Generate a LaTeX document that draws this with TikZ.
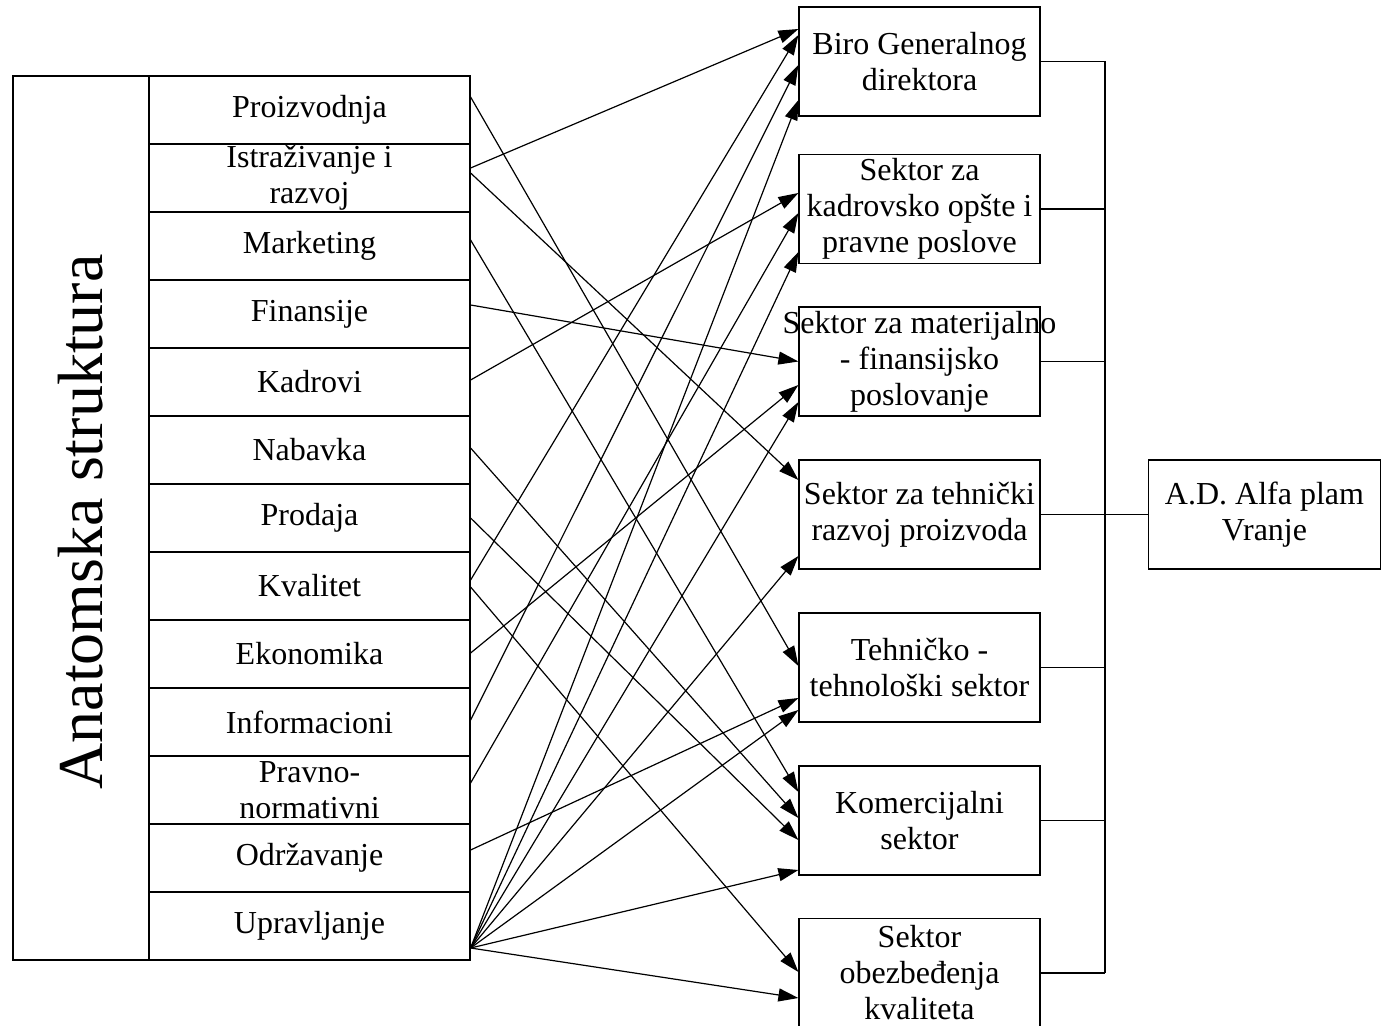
\documentclass[tikz,border=0pt]{standalone}
\usepackage{fontspec}
\setmainfont{Liberation Serif}
\usetikzlibrary{arrows.meta,calc}
\begin{document}
\begin{tikzpicture}[x=0.5pt,y=-0.5pt,
  every node/.style={font=\fontsize{16}{18}\selectfont, inner sep=0pt},
  cell/.style={draw, line width=0.6pt, minimum width=160.5pt, minimum height=34pt, align=center},
  rbox/.style={draw, line width=0.6pt, minimum width=120.5pt, minimum height=54.5pt, align=center},
  conn/.style={line width=0.6pt, -{Triangle[length=10pt,width=6.5pt]}},
  bus/.style={line width=0.6pt}]
\useasboundingbox (0,0) rectangle (1381,1026);
% left table
\node[draw, line width=0.6pt, minimum width=68pt, minimum height=442pt] (A) at (81,518) {};
\node[rotate=90, font=\fontsize{32}{36}\selectfont] (Atxt) at (81,522) {Anatomska struktura};
\node[cell] (r1) at (309.5,110) {Proizvodnja};
\node[cell] (r2) at (309.5,178) {Istraživanje i\\razvoj};
\node[cell] (r3) at (309.5,246) {Marketing};
\node[cell] (r4) at (309.5,314) {Finansije};
\node[cell] (r5) at (309.5,382) {Kadrovi};
\node[cell] (r6) at (309.5,450) {Nabavka};
\node[cell] (r7) at (309.5,518) {Prodaja};
\node[cell] (r8) at (309.5,586) {Kvalitet};
\node[cell] (r9) at (309.5,654) {Ekonomika};
\node[cell] (r10) at (309.5,722) {Informacioni};
\node[cell] (r11) at (309.5,790) {Pravno-\\normativni};
\node[cell] (r12) at (309.5,858) {Održavanje};
\node[cell] (r13) at (309.5,926) {Upravljanje};
% right boxes
\node[rbox] (b1) at (919.5,61.5) {Biro Generalnog\\direktora};
\node[rbox] (b2) at (919.5,209) {Sektor za\\kadrovsko opšte i\\pravne poslove};
\node[rbox] (b3) at (919.5,361.5) {\makebox[100pt]{Sektor za materijalno}\\- finansijsko\\poslovanje};
\node[rbox] (b4) at (919.5,514.5) {Sektor za tehnički\\razvoj proizvoda};
\node[rbox] (b5) at (919.5,667.5) {Tehničko -\\tehnološki sektor};
\node[rbox] (b6) at (919.5,820.5) {Komercijalni\\sektor};
\node[rbox] (b7) at (919.5,973) {Sektor\\obezbeđenja\\kvaliteta};
\node[draw, line width=0.6pt, minimum width=116pt, minimum height=54.5pt, align=center] (AD) at (1264.5,514.5) {A.D. Alfa plam\\Vranje};
% bus
\coordinate (bustop) at (1105,61.5);
\coordinate (busbot) at (1105,973);
\draw[bus] (bustop) -- (busbot);
\foreach \b in {b1,b2,b3,b5,b6,b7} \draw[bus] (\b.east) -- (\b.east -| bustop);
\draw[bus] (b4.east) -- (AD.west);
% connectors
\foreach \s/\sy/\t/\ty in {
  r1/-13/b5/-1.5,
  r2/-10/b1/-32.5,
  r2/-5/b4/-34.5,
  r3/-6/b6/-28.5,
  r4/-9/b3/0,
  r5/-2/b2/-16,
  r6/-2/b6/-2.5,
  r7/0/b6/19.5,
  r8/-6/b1/-26.5,
  r8/1/b7/-1,
  r9/-1/b3/23.5,
  r10/-2/b1/3.5,
  r11/-7/b2/4,
  r12/-8/b5/30.5,
  r13/22/b1/38.5,
  r13/22/b2/43,
  r13/22/b3/40.5,
  r13/22/b4/41.5,
  r13/22/b5/42.5,
  r13/22/b6/49.5,
  r13/22/b7/25}
  \draw[conn] ($(\s.east)+(0,\sy)$) -- ($(\t.west)+(0,\ty)$);
\end{tikzpicture}
\end{document}
